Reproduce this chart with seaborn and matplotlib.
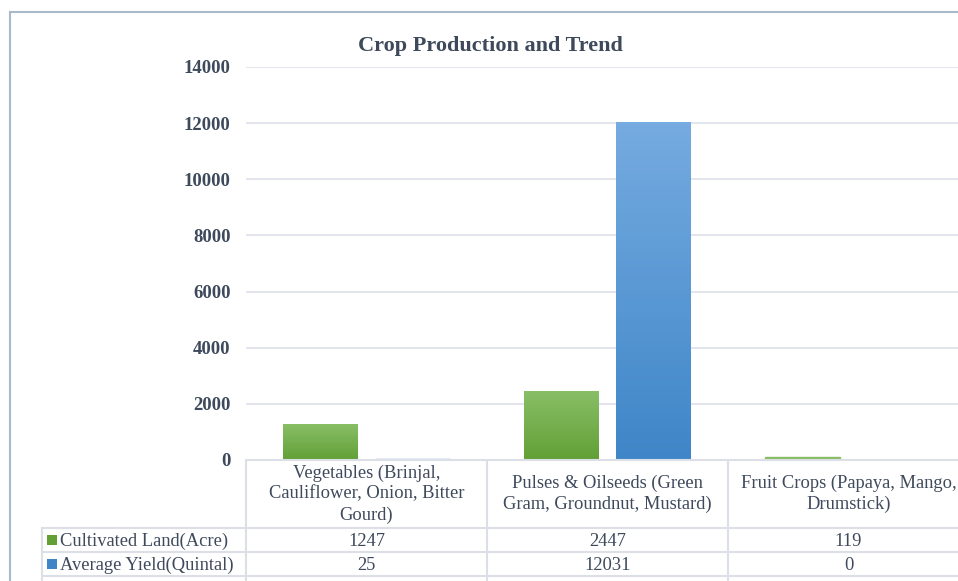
import numpy as np
import pandas as pd
import matplotlib
matplotlib.use("Agg")
from matplotlib import pyplot as plt
from matplotlib.colors import LinearSegmentedColormap
from matplotlib.patches import Rectangle
from matplotlib.lines import Line2D
from matplotlib.transforms import blended_transform_factory
import seaborn as sns

sns.set_theme(style="white")
plt.rcParams["font.family"] = ["Liberation Serif", "DejaVu Serif"]

# data
categories = ["Vegetables (Brinjal,\nCauliflower, Onion, Bitter\nGourd)",
              "Pulses & Oilseeds (Green\nGram, Groundnut, Mustard)",
              "Fruit Crops (Papaya, Mango,\nDrumstick)"]
series = ["Cultivated Land(Acre)", "Average Yield(Quintal)"]
cultivated = [1247, 2447, 119]
avg_yield = [25, 12031, 0]
yticks = [0, 2000, 4000, 6000, 8000, 10000, 12000, 14000]

df = pd.DataFrame({"cat": categories * 2,
                   "series": [series[0]] * 3 + [series[1]] * 3,
                   "value": cultivated + avg_yield})

txt = "#3E4A5C"
grid_c = "#DDE2E9"
line_c = "#DCE0E6"
cols = {series[0]: ("#88BE66", "#62A036"), series[1]: ("#75ABE0", "#3F86C8")}
fs = 13.3

W, H = 958, 581
fig = plt.figure(figsize=(W / 100, H / 100), dpi=100)
fx = lambda p: p / W
fy = lambda p: 1 - p / H

ax = fig.add_axes([fx(246), fy(460), fx(969) - fx(246), fy(67) - fy(460)])
sns.barplot(data=df, x="cat", y="value", hue="series", order=categories,
            hue_order=series, palette=[cols[s][1] for s in series],
            width=0.76, gap=0.185, legend=False, ax=ax, zorder=3)
ax.set_xlim(-0.5, 2.5)
ax.set_ylim(0, 14000)
ax.set_yticks(yticks)
ax.set_yticklabels([str(v) for v in yticks], fontsize=13.5, fontweight="bold", color=txt)
ax.tick_params(axis="y", length=0, pad=11)
ax.set_xticks([])
ax.set_xlabel("")
ax.set_ylabel("")
for s in ax.spines.values():
    s.set_visible(False)
for v in yticks[1:]:
    ax.axhline(v, color=grid_c, lw=1.2, zorder=1)

# gradient fill on each bar
n = len(categories)
for i, p in enumerate(ax.patches):
    h = p.get_height()
    if h <= 0:
        continue
    top, bot = cols[series[i // n]]
    if h < 150:
        # too thin for a gradient, just keep a thin solid bar
        p.set_facecolor(top)
        p.set_edgecolor(top)
        p.set_linewidth(1)
        continue
    cmap = LinearSegmentedColormap.from_list("g", [bot, top])
    x0 = p.get_x()
    grad = np.linspace(0, 1, 100).reshape(-1, 1)
    ax.imshow(grad, cmap=cmap, origin="lower", aspect="auto",
              extent=(x0, x0 + p.get_width(), 0, h), zorder=3)
    p.set_facecolor("none")
    p.set_edgecolor("none")
ax.set_xlim(-0.5, 2.5)
ax.set_ylim(0, 14000)

fig.text(fx(490), fy(46), "Crop Production and Trend", ha="center", va="center",
         fontsize=16, fontweight="bold", color=txt)

# outer frame
fig.patches.append(Rectangle((fx(10), fy(990)), fx(1000), fy(12) - fy(990),
                             transform=fig.transFigure, fill=False,
                             edgecolor="#AAB8CB", lw=1.5))

# data table below the axis
def hline(y, x0, x1):
    fig.add_artist(Line2D([fx(x0), fx(x1)], [fy(y), fy(y)], color=line_c, lw=1.5))

def vline(x, y0, y1):
    fig.add_artist(Line2D([fx(x), fx(x)], [fy(y0), fy(y1)], color=line_c, lw=1.5))

hline(460, 246, 990)
hline(528, 42, 990)
hline(552, 42, 990)
hline(576, 42, 990)
vline(42, 528, 600)
for xp in [246, 487, 728, 969]:
    vline(xp, 460, 600)

tr = blended_transform_factory(ax.transData, fig.transFigure)
for i, c in enumerate(categories):
    ax.text(i, fy(494), c, transform=tr, ha="center", va="center",
            fontsize=fs, color=txt, linespacing=1.3, clip_on=False)
    ax.text(i, fy(541), str(cultivated[i]), transform=tr, ha="center", va="center",
            fontsize=fs, color=txt, clip_on=False)
    ax.text(i, fy(565), str(avg_yield[i]), transform=tr, ha="center", va="center",
            fontsize=fs, color=txt, clip_on=False)

for j, (s, yc) in enumerate(zip(series, [541, 565])):
    fig.patches.append(Rectangle((fx(47), fy(yc + 4)), fx(10), fy(yc - 6) - fy(yc + 4),
                                 transform=fig.transFigure, color=cols[s][1], lw=0))
    fig.text(fx(60), fy(yc), s, ha="left", va="center", fontsize=fs, color=txt)

fig.savefig("out.png", dpi=100)
